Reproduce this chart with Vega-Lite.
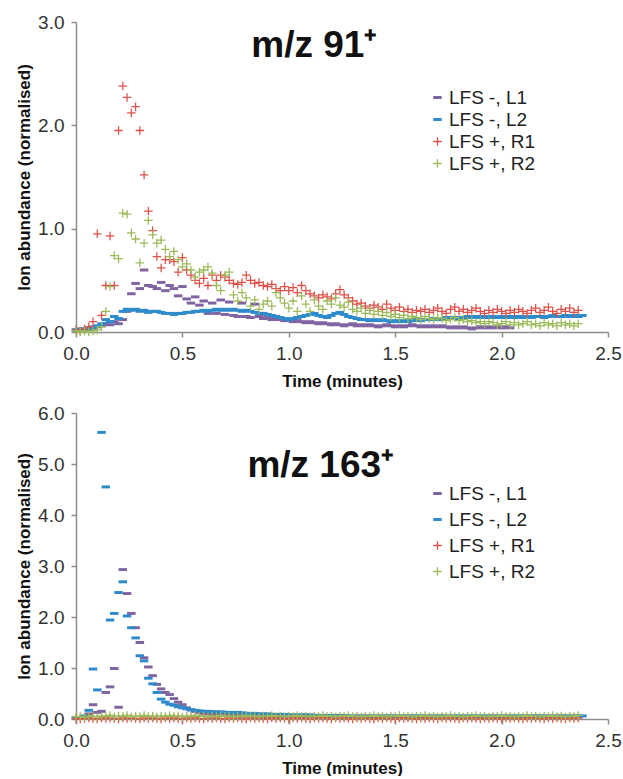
{
  "$schema": "https://vega.github.io/schema/vega-lite/v6.json",
  "background": "white",
  "padding": {"left": 15, "top": 13, "right": 0, "bottom": 0},
  "spacing": 15,
  "config": {
    "view": {"stroke": null},
    "font": "Liberation Sans",
    "axis": {
      "grid": false,
      "labelFlush": false,
      "labelOverlap": false,
      "domainColor": "#8c8c8c",
      "domainWidth": 1.5,
      "tickColor": "#8c8c8c",
      "tickWidth": 1.5,
      "tickSize": 5,
      "labelFont": "Liberation Sans",
      "labelFontSize": 19,
      "labelColor": "#333333",
      "labelPadding": 7,
      "titleFont": "Liberation Sans",
      "titleFontSize": 17,
      "titleFontWeight": "bold",
      "titleColor": "#111111"
    },
    "legend": {
      "labelFont": "Liberation Sans",
      "labelFontSize": 19,
      "labelColor": "#222222",
      "labelOffset": 2,
      "symbolStrokeWidth": 0,
      "symbolSize": 72
    }
  },
  "datasets": {
    "p1": [
      {"t":0.00,"L1":0.02,"L2":0.02,"R1":0.02,"R2":0.01},
      {"t":0.02,"L1":0.03,"L2":0.02,"R1":0.01,"R2":0.00},
      {"t":0.04,"L1":0.02,"L2":0.03,"R1":0.03,"R2":0.01},
      {"t":0.06,"L1":0.04,"L2":0.03,"R1":0.05,"R2":0.00},
      {"t":0.08,"L1":0.03,"L2":0.05,"R1":0.10,"R2":0.01},
      {"t":0.10,"L1":0.05,"L2":0.06,"R1":0.95,"R2":0.02},
      {"t":0.12,"L1":0.06,"L2":0.08,"R1":0.16,"R2":0.05},
      {"t":0.14,"L1":0.08,"L2":0.12,"R1":0.45,"R2":0.20},
      {"t":0.16,"L1":0.07,"L2":0.10,"R1":0.93,"R2":0.44},
      {"t":0.18,"L1":0.10,"L2":0.15,"R1":0.45,"R2":0.74},
      {"t":0.20,"L1":0.08,"L2":0.13,"R1":1.95,"R2":0.71},
      {"t":0.22,"L1":0.12,"L2":0.20,"R1":2.38,"R2":1.15},
      {"t":0.24,"L1":0.20,"L2":0.22,"R1":2.27,"R2":1.14},
      {"t":0.26,"L1":0.37,"L2":0.21,"R1":2.12,"R2":0.96},
      {"t":0.28,"L1":0.47,"L2":0.22,"R1":2.18,"R2":0.90},
      {"t":0.30,"L1":0.42,"L2":0.20,"R1":1.95,"R2":0.67},
      {"t":0.32,"L1":0.60,"L2":0.21,"R1":1.52,"R2":0.86},
      {"t":0.34,"L1":0.45,"L2":0.19,"R1":1.17,"R2":1.08},
      {"t":0.36,"L1":0.44,"L2":0.20,"R1":0.98,"R2":0.94},
      {"t":0.38,"L1":0.42,"L2":0.20,"R1":0.73,"R2":0.86},
      {"t":0.40,"L1":0.48,"L2":0.19,"R1":0.62,"R2":0.89},
      {"t":0.42,"L1":0.40,"L2":0.18,"R1":0.70,"R2":0.80},
      {"t":0.44,"L1":0.45,"L2":0.18,"R1":0.70,"R2":0.73},
      {"t":0.46,"L1":0.42,"L2":0.17,"R1":0.68,"R2":0.78},
      {"t":0.48,"L1":0.35,"L2":0.18,"R1":0.58,"R2":0.70},
      {"t":0.50,"L1":0.44,"L2":0.18,"R1":0.72,"R2":0.63},
      {"t":0.52,"L1":0.32,"L2":0.19,"R1":0.60,"R2":0.66},
      {"t":0.54,"L1":0.28,"L2":0.19,"R1":0.55,"R2":0.60},
      {"t":0.56,"L1":0.34,"L2":0.20,"R1":0.50,"R2":0.53},
      {"t":0.58,"L1":0.26,"L2":0.20,"R1":0.47,"R2":0.58},
      {"t":0.60,"L1":0.30,"L2":0.21,"R1":0.52,"R2":0.60},
      {"t":0.62,"L1":0.18,"L2":0.20,"R1":0.45,"R2":0.63},
      {"t":0.64,"L1":0.28,"L2":0.21,"R1":0.55,"R2":0.57},
      {"t":0.66,"L1":0.18,"L2":0.22,"R1":0.50,"R2":0.45},
      {"t":0.68,"L1":0.31,"L2":0.21,"R1":0.55,"R2":0.40},
      {"t":0.70,"L1":0.17,"L2":0.22,"R1":0.53,"R2":0.55},
      {"t":0.72,"L1":0.29,"L2":0.21,"R1":0.50,"R2":0.58},
      {"t":0.74,"L1":0.16,"L2":0.22,"R1":0.47,"R2":0.36},
      {"t":0.76,"L1":0.15,"L2":0.21,"R1":0.46,"R2":0.30},
      {"t":0.78,"L1":0.28,"L2":0.20,"R1":0.48,"R2":0.38},
      {"t":0.80,"L1":0.15,"L2":0.21,"R1":0.55,"R2":0.33},
      {"t":0.82,"L1":0.14,"L2":0.20,"R1":0.50,"R2":0.25},
      {"t":0.84,"L1":0.27,"L2":0.19,"R1":0.47,"R2":0.31},
      {"t":0.86,"L1":0.15,"L2":0.18,"R1":0.48,"R2":0.22},
      {"t":0.88,"L1":0.13,"L2":0.18,"R1":0.45,"R2":0.27},
      {"t":0.90,"L1":0.14,"L2":0.17,"R1":0.44,"R2":0.30},
      {"t":0.92,"L1":0.12,"L2":0.16,"R1":0.46,"R2":0.25},
      {"t":0.94,"L1":0.13,"L2":0.15,"R1":0.42,"R2":0.38},
      {"t":0.96,"L1":0.12,"L2":0.14,"R1":0.40,"R2":0.33},
      {"t":0.98,"L1":0.11,"L2":0.13,"R1":0.44,"R2":0.28},
      {"t":1.00,"L1":0.12,"L2":0.12,"R1":0.40,"R2":0.23},
      {"t":1.02,"L1":0.10,"L2":0.13,"R1":0.43,"R2":0.30},
      {"t":1.04,"L1":0.11,"L2":0.14,"R1":0.38,"R2":0.20},
      {"t":1.06,"L1":0.10,"L2":0.15,"R1":0.45,"R2":0.35},
      {"t":1.08,"L1":0.09,"L2":0.16,"R1":0.40,"R2":0.27},
      {"t":1.10,"L1":0.10,"L2":0.17,"R1":0.37,"R2":0.20},
      {"t":1.12,"L1":0.09,"L2":0.18,"R1":0.35,"R2":0.31},
      {"t":1.14,"L1":0.08,"L2":0.16,"R1":0.33,"R2":0.25},
      {"t":1.16,"L1":0.09,"L2":0.15,"R1":0.36,"R2":0.22},
      {"t":1.18,"L1":0.08,"L2":0.14,"R1":0.34,"R2":0.30},
      {"t":1.20,"L1":0.07,"L2":0.16,"R1":0.32,"R2":0.27},
      {"t":1.22,"L1":0.08,"L2":0.18,"R1":0.37,"R2":0.33},
      {"t":1.24,"L1":0.07,"L2":0.19,"R1":0.41,"R2":0.26},
      {"t":1.26,"L1":0.06,"L2":0.17,"R1":0.36,"R2":0.24},
      {"t":1.28,"L1":0.07,"L2":0.15,"R1":0.33,"R2":0.29},
      {"t":1.30,"L1":0.08,"L2":0.14,"R1":0.30,"R2":0.22},
      {"t":1.32,"L1":0.06,"L2":0.13,"R1":0.27,"R2":0.20},
      {"t":1.34,"L1":0.07,"L2":0.12,"R1":0.28,"R2":0.23},
      {"t":1.36,"L1":0.06,"L2":0.12,"R1":0.25,"R2":0.18},
      {"t":1.38,"L1":0.07,"L2":0.11,"R1":0.23,"R2":0.21},
      {"t":1.40,"L1":0.06,"L2":0.12,"R1":0.26,"R2":0.17},
      {"t":1.42,"L1":0.05,"L2":0.11,"R1":0.24,"R2":0.20},
      {"t":1.44,"L1":0.06,"L2":0.12,"R1":0.22,"R2":0.16},
      {"t":1.46,"L1":0.07,"L2":0.11,"R1":0.27,"R2":0.19},
      {"t":1.48,"L1":0.06,"L2":0.10,"R1":0.23,"R2":0.15},
      {"t":1.50,"L1":0.05,"L2":0.11,"R1":0.21,"R2":0.17},
      {"t":1.52,"L1":0.06,"L2":0.10,"R1":0.24,"R2":0.14},
      {"t":1.54,"L1":0.05,"L2":0.11,"R1":0.20,"R2":0.16},
      {"t":1.56,"L1":0.06,"L2":0.10,"R1":0.22,"R2":0.13},
      {"t":1.58,"L1":0.07,"L2":0.11,"R1":0.19,"R2":0.15},
      {"t":1.60,"L1":0.06,"L2":0.12,"R1":0.21,"R2":0.14},
      {"t":1.62,"L1":0.05,"L2":0.11,"R1":0.20,"R2":0.12},
      {"t":1.64,"L1":0.06,"L2":0.12,"R1":0.22,"R2":0.15},
      {"t":1.66,"L1":0.05,"L2":0.12,"R1":0.19,"R2":0.13},
      {"t":1.68,"L1":0.06,"L2":0.13,"R1":0.21,"R2":0.12},
      {"t":1.70,"L1":0.05,"L2":0.12,"R1":0.23,"R2":0.14},
      {"t":1.72,"L1":0.06,"L2":0.13,"R1":0.20,"R2":0.13},
      {"t":1.74,"L1":0.05,"L2":0.14,"R1":0.18,"R2":0.11},
      {"t":1.76,"L1":0.04,"L2":0.13,"R1":0.22,"R2":0.12},
      {"t":1.78,"L1":0.05,"L2":0.14,"R1":0.24,"R2":0.14},
      {"t":1.80,"L1":0.04,"L2":0.13,"R1":0.20,"R2":0.11},
      {"t":1.82,"L1":0.05,"L2":0.14,"R1":0.22,"R2":0.12},
      {"t":1.84,"L1":0.04,"L2":0.15,"R1":0.19,"R2":0.10},
      {"t":1.86,"L1":0.03,"L2":0.14,"R1":0.21,"R2":0.11},
      {"t":1.88,"L1":0.04,"L2":0.15,"R1":0.23,"R2":0.09},
      {"t":1.90,"L1":0.05,"L2":0.14,"R1":0.20,"R2":0.10},
      {"t":1.92,"L1":0.04,"L2":0.15,"R1":0.18,"R2":0.08},
      {"t":1.94,"L1":0.05,"L2":0.14,"R1":0.21,"R2":0.10},
      {"t":1.96,"L1":0.04,"L2":0.15,"R1":0.19,"R2":0.09},
      {"t":1.98,"L1":0.05,"L2":0.14,"R1":0.22,"R2":0.07},
      {"t":2.00,"L1":0.04,"L2":0.15,"R1":0.20,"R2":0.08},
      {"t":2.02,"L1":0.05,"L2":0.14,"R1":0.18,"R2":0.10},
      {"t":2.04,"L1":0.04,"L2":0.15,"R1":0.21,"R2":0.07},
      {"t":2.06,"L1":null,"L2":0.14,"R1":0.19,"R2":0.09},
      {"t":2.08,"L1":null,"L2":0.15,"R1":0.22,"R2":0.07},
      {"t":2.10,"L1":null,"L2":0.14,"R1":0.20,"R2":0.08},
      {"t":2.12,"L1":null,"L2":0.15,"R1":0.18,"R2":0.10},
      {"t":2.14,"L1":null,"L2":0.14,"R1":0.21,"R2":0.07},
      {"t":2.16,"L1":null,"L2":0.15,"R1":0.23,"R2":0.08},
      {"t":2.18,"L1":null,"L2":0.15,"R1":0.19,"R2":0.06},
      {"t":2.20,"L1":null,"L2":0.14,"R1":0.21,"R2":0.09},
      {"t":2.22,"L1":null,"L2":0.15,"R1":0.24,"R2":0.07},
      {"t":2.24,"L1":null,"L2":0.16,"R1":0.20,"R2":0.08},
      {"t":2.26,"L1":null,"L2":0.15,"R1":0.18,"R2":0.06},
      {"t":2.28,"L1":null,"L2":0.15,"R1":0.22,"R2":0.09},
      {"t":2.30,"L1":null,"L2":0.16,"R1":0.20,"R2":0.07},
      {"t":2.32,"L1":null,"L2":0.15,"R1":0.23,"R2":0.08},
      {"t":2.34,"L1":null,"L2":0.16,"R1":0.19,"R2":0.06},
      {"t":2.36,"L1":null,"L2":0.15,"R1":0.21,"R2":0.08},
      {"t":2.38,"L1":null,"L2":0.16,"R1":null,"R2":null}
    ],
    "p2": [
      {"t":0.00,"L1":0.03,"L2":0.02,"R1":0.01,"R2":0.04},
      {"t":0.02,"L1":0.02,"L2":0.03,"R1":0.00,"R2":0.05},
      {"t":0.04,"L1":0.05,"L2":0.06,"R1":0.01,"R2":0.03},
      {"t":0.06,"L1":0.10,"L2":0.17,"R1":0.02,"R2":0.06},
      {"t":0.08,"L1":0.28,"L2":0.98,"R1":0.01,"R2":0.05},
      {"t":0.10,"L1":0.13,"L2":0.57,"R1":0.00,"R2":0.04},
      {"t":0.12,"L1":0.15,"L2":5.62,"R1":0.02,"R2":0.06},
      {"t":0.14,"L1":0.52,"L2":4.55,"R1":0.01,"R2":0.05},
      {"t":0.16,"L1":0.63,"L2":1.94,"R1":0.02,"R2":0.07},
      {"t":0.18,"L1":0.99,"L2":2.07,"R1":0.01,"R2":0.04},
      {"t":0.20,"L1":0.23,"L2":2.48,"R1":0.00,"R2":0.06},
      {"t":0.22,"L1":2.93,"L2":2.69,"R1":0.02,"R2":0.05},
      {"t":0.24,"L1":2.46,"L2":2.02,"R1":0.01,"R2":0.07},
      {"t":0.26,"L1":2.07,"L2":1.79,"R1":0.02,"R2":0.04},
      {"t":0.28,"L1":1.79,"L2":1.59,"R1":0.01,"R2":0.06},
      {"t":0.30,"L1":1.50,"L2":1.24,"R1":0.00,"R2":0.05},
      {"t":0.32,"L1":1.20,"L2":1.14,"R1":0.02,"R2":0.07},
      {"t":0.34,"L1":1.02,"L2":0.80,"R1":0.01,"R2":0.05},
      {"t":0.36,"L1":0.85,"L2":0.69,"R1":0.02,"R2":0.06},
      {"t":0.38,"L1":0.68,"L2":0.52,"R1":0.01,"R2":0.04},
      {"t":0.40,"L1":0.59,"L2":0.39,"R1":0.00,"R2":0.06},
      {"t":0.42,"L1":0.52,"L2":0.33,"R1":0.02,"R2":0.05},
      {"t":0.44,"L1":0.48,"L2":0.29,"R1":0.01,"R2":0.07},
      {"t":0.46,"L1":0.40,"L2":0.27,"R1":0.02,"R2":0.05},
      {"t":0.48,"L1":0.33,"L2":0.24,"R1":0.01,"R2":0.06},
      {"t":0.50,"L1":0.28,"L2":0.22,"R1":0.00,"R2":0.04},
      {"t":0.52,"L1":0.22,"L2":0.20,"R1":0.02,"R2":0.06},
      {"t":0.54,"L1":0.18,"L2":0.18,"R1":0.01,"R2":0.05},
      {"t":0.56,"L1":0.15,"L2":0.17,"R1":0.02,"R2":0.07},
      {"t":0.58,"L1":0.13,"L2":0.16,"R1":0.01,"R2":0.05},
      {"t":0.60,"L1":0.11,"L2":0.15,"R1":0.00,"R2":0.06},
      {"t":0.62,"L1":0.10,"L2":0.15,"R1":0.02,"R2":0.04},
      {"t":0.64,"L1":0.09,"L2":0.14,"R1":0.01,"R2":0.06},
      {"t":0.66,"L1":0.09,"L2":0.14,"R1":0.02,"R2":0.05},
      {"t":0.68,"L1":0.08,"L2":0.14,"R1":0.01,"R2":0.07},
      {"t":0.70,"L1":0.08,"L2":0.13,"R1":0.00,"R2":0.05},
      {"t":0.72,"L1":0.07,"L2":0.13,"R1":0.02,"R2":0.06},
      {"t":0.74,"L1":0.07,"L2":0.12,"R1":0.01,"R2":0.04},
      {"t":0.76,"L1":0.07,"L2":0.13,"R1":0.02,"R2":0.06},
      {"t":0.78,"L1":0.06,"L2":0.12,"R1":0.01,"R2":0.05},
      {"t":0.80,"L1":0.06,"L2":0.11,"R1":0.00,"R2":0.07},
      {"t":0.82,"L1":0.06,"L2":0.11,"R1":0.02,"R2":0.05},
      {"t":0.84,"L1":0.06,"L2":0.11,"R1":0.01,"R2":0.06},
      {"t":0.86,"L1":0.05,"L2":0.10,"R1":0.02,"R2":0.04},
      {"t":0.88,"L1":0.06,"L2":0.10,"R1":0.01,"R2":0.06},
      {"t":0.90,"L1":0.05,"L2":0.10,"R1":0.00,"R2":0.05},
      {"t":0.92,"L1":0.05,"L2":0.09,"R1":0.02,"R2":0.07},
      {"t":0.94,"L1":0.05,"L2":0.09,"R1":0.01,"R2":0.05},
      {"t":0.96,"L1":0.05,"L2":0.09,"R1":0.02,"R2":0.06},
      {"t":0.98,"L1":0.05,"L2":0.09,"R1":0.01,"R2":0.04},
      {"t":1.00,"L1":0.05,"L2":0.08,"R1":0.00,"R2":0.06},
      {"t":1.02,"L1":0.04,"L2":0.08,"R1":0.02,"R2":0.05},
      {"t":1.04,"L1":0.05,"L2":0.08,"R1":0.01,"R2":0.07},
      {"t":1.06,"L1":0.04,"L2":0.08,"R1":0.02,"R2":0.05},
      {"t":1.08,"L1":0.05,"L2":0.08,"R1":0.01,"R2":0.06},
      {"t":1.10,"L1":0.04,"L2":0.08,"R1":0.00,"R2":0.04},
      {"t":1.12,"L1":0.04,"L2":0.07,"R1":0.02,"R2":0.06},
      {"t":1.14,"L1":0.05,"L2":0.07,"R1":0.01,"R2":0.05},
      {"t":1.16,"L1":0.04,"L2":0.07,"R1":0.02,"R2":0.07},
      {"t":1.18,"L1":0.04,"L2":0.07,"R1":0.01,"R2":0.05},
      {"t":1.20,"L1":0.04,"L2":0.07,"R1":0.00,"R2":0.06},
      {"t":1.22,"L1":0.04,"L2":0.07,"R1":0.02,"R2":0.04},
      {"t":1.24,"L1":0.04,"L2":0.07,"R1":0.01,"R2":0.06},
      {"t":1.26,"L1":0.04,"L2":0.07,"R1":0.02,"R2":0.05},
      {"t":1.28,"L1":0.04,"L2":0.06,"R1":0.01,"R2":0.07},
      {"t":1.30,"L1":0.04,"L2":0.06,"R1":0.00,"R2":0.05},
      {"t":1.32,"L1":0.04,"L2":0.06,"R1":0.02,"R2":0.06},
      {"t":1.34,"L1":0.03,"L2":0.06,"R1":0.01,"R2":0.04},
      {"t":1.36,"L1":0.04,"L2":0.06,"R1":0.02,"R2":0.06},
      {"t":1.38,"L1":0.03,"L2":0.06,"R1":0.01,"R2":0.05},
      {"t":1.40,"L1":0.04,"L2":0.06,"R1":0.00,"R2":0.07},
      {"t":1.42,"L1":0.03,"L2":0.06,"R1":0.02,"R2":0.05},
      {"t":1.44,"L1":0.04,"L2":0.06,"R1":0.01,"R2":0.06},
      {"t":1.46,"L1":0.03,"L2":0.06,"R1":0.02,"R2":0.04},
      {"t":1.48,"L1":0.04,"L2":0.06,"R1":0.01,"R2":0.06},
      {"t":1.50,"L1":0.03,"L2":0.06,"R1":0.00,"R2":0.05},
      {"t":1.52,"L1":0.04,"L2":0.06,"R1":0.02,"R2":0.07},
      {"t":1.54,"L1":0.03,"L2":0.06,"R1":0.01,"R2":0.05},
      {"t":1.56,"L1":0.04,"L2":0.06,"R1":0.02,"R2":0.06},
      {"t":1.58,"L1":0.03,"L2":0.06,"R1":0.01,"R2":0.04},
      {"t":1.60,"L1":0.04,"L2":0.06,"R1":0.00,"R2":0.06},
      {"t":1.62,"L1":0.03,"L2":0.06,"R1":0.02,"R2":0.05},
      {"t":1.64,"L1":0.04,"L2":0.06,"R1":0.01,"R2":0.07},
      {"t":1.66,"L1":0.03,"L2":0.06,"R1":0.02,"R2":0.05},
      {"t":1.68,"L1":0.04,"L2":0.06,"R1":0.01,"R2":0.06},
      {"t":1.70,"L1":0.03,"L2":0.06,"R1":0.00,"R2":0.04},
      {"t":1.72,"L1":0.04,"L2":0.06,"R1":0.02,"R2":0.06},
      {"t":1.74,"L1":0.03,"L2":0.06,"R1":0.01,"R2":0.05},
      {"t":1.76,"L1":0.04,"L2":0.06,"R1":0.02,"R2":0.07},
      {"t":1.78,"L1":0.03,"L2":0.06,"R1":0.01,"R2":0.05},
      {"t":1.80,"L1":0.04,"L2":0.06,"R1":0.00,"R2":0.06},
      {"t":1.82,"L1":0.03,"L2":0.06,"R1":0.02,"R2":0.04},
      {"t":1.84,"L1":0.04,"L2":0.06,"R1":0.01,"R2":0.06},
      {"t":1.86,"L1":0.03,"L2":0.06,"R1":0.02,"R2":0.05},
      {"t":1.88,"L1":0.04,"L2":0.06,"R1":0.01,"R2":0.07},
      {"t":1.90,"L1":0.03,"L2":0.06,"R1":0.00,"R2":0.05},
      {"t":1.92,"L1":0.04,"L2":0.06,"R1":0.02,"R2":0.06},
      {"t":1.94,"L1":0.03,"L2":0.06,"R1":0.01,"R2":0.04},
      {"t":1.96,"L1":0.04,"L2":0.06,"R1":0.02,"R2":0.06},
      {"t":1.98,"L1":0.03,"L2":0.06,"R1":0.01,"R2":0.05},
      {"t":2.00,"L1":0.04,"L2":0.06,"R1":0.00,"R2":0.07},
      {"t":2.02,"L1":0.03,"L2":0.06,"R1":0.02,"R2":0.05},
      {"t":2.04,"L1":0.04,"L2":0.06,"R1":0.01,"R2":0.06},
      {"t":2.06,"L1":0.03,"L2":0.06,"R1":0.02,"R2":0.04},
      {"t":2.08,"L1":0.04,"L2":0.06,"R1":0.01,"R2":0.06},
      {"t":2.10,"L1":0.03,"L2":0.06,"R1":0.00,"R2":0.05},
      {"t":2.12,"L1":0.04,"L2":0.06,"R1":0.02,"R2":0.07},
      {"t":2.14,"L1":0.03,"L2":0.06,"R1":0.01,"R2":0.05},
      {"t":2.16,"L1":0.04,"L2":0.06,"R1":0.02,"R2":0.06},
      {"t":2.18,"L1":0.03,"L2":0.06,"R1":0.01,"R2":0.04},
      {"t":2.20,"L1":0.04,"L2":0.06,"R1":0.00,"R2":0.06},
      {"t":2.22,"L1":0.03,"L2":0.06,"R1":0.02,"R2":0.05},
      {"t":2.24,"L1":0.04,"L2":0.06,"R1":0.01,"R2":0.07},
      {"t":2.26,"L1":0.03,"L2":0.06,"R1":0.02,"R2":0.05},
      {"t":2.28,"L1":0.04,"L2":0.06,"R1":0.01,"R2":0.06},
      {"t":2.30,"L1":0.03,"L2":0.06,"R1":0.00,"R2":0.04},
      {"t":2.32,"L1":0.04,"L2":0.06,"R1":0.02,"R2":0.06},
      {"t":2.34,"L1":0.03,"L2":0.06,"R1":0.01,"R2":0.05},
      {"t":2.36,"L1":0.04,"L2":0.06,"R1":0.02,"R2":0.07},
      {"t":2.38,"L1":null,"L2":0.06,"R1":null,"R2":null}
    ],
    "titles": [
      {"panel":"p1","label":"m/z 91⁺"},
      {"panel":"p2","label":"m/z 163⁺"}
    ]
  },
  "resolve": {
    "scale": {"color": "independent", "shape": "independent"}
  },
  "vconcat": [
    {
      "width": 532,
      "height": 310,
      "layer": [
        {
          "data": {"name": "p1"},
          "transform": [
            {"fold": ["L1", "L2", "R1", "R2"], "as": ["key", "value"]},
            {"filter": {"field": "value", "valid": true}}
          ],
          "mark": {"type": "point", "filled": true, "size": 72, "opacity": 1, "strokeWidth": 0},
          "encoding": {
            "x": {"field": "t", "type": "quantitative", "scale": {"domain": [0, 2.5], "nice": false},
                  "axis": {"values": [0, 0.5, 1, 1.5, 2, 2.5], "format": ".1f", "title": "Time (minutes)", "titlePadding": 10}},
            "y": {"field": "value", "type": "quantitative", "scale": {"domain": [0, 3], "nice": false},
                  "axis": {"values": [0, 1, 2, 3], "format": ".1f", "title": "Ion abundance (normalised)", "titlePadding": 4}},
            "order": {"field": "key", "type": "ordinal", "sort": "ascending"},
            "color": {"field": "key", "type": "nominal",
                      "scale": {"domain": ["L1", "L2", "R1", "R2"], "range": ["#8064A2", "#2E8BCB", "#E0504A", "#9BBB59"]},
                      "legend": {"title": null, "orient": "none", "legendX": 352, "legendY": 66, "rowPadding": 2,
                                 "labelExpr": "(datum.label[0] == 'L' ? 'LFS -, ' : 'LFS +, ') + datum.label",
                                 "encode": {"symbols": {"update": {
                                   "shape": {"signal": "datum.value[0] == 'L' ? 'M-1,-0.35H1V0.35H-1Z' : 'M-1,-0.17H1V0.17H-1ZM-0.17,-1H0.17V1H-0.17Z'"},
                                   "fill": {"signal": "datum.value == 'L1' ? '#8064A2' : datum.value == 'L2' ? '#2E8BCB' : datum.value == 'R1' ? '#E0504A' : '#9BBB59'"},
                                   "stroke": {"value": "transparent"},
                                   "opacity": {"value": 1}}}}}},
            "shape": {"field": "key", "type": "nominal",
                      "scale": {"domain": ["L1", "L2", "R1", "R2"],
                                "range": ["M-1,-0.35H1V0.35H-1Z", "M-1,-0.35H1V0.35H-1Z", "M-1,-0.15H1V0.15H-1ZM-0.15,-1H0.15V1H-0.15Z", "M-1,-0.15H1V0.15H-1ZM-0.15,-1H0.15V1H-0.15Z"]},
                      "legend": null}
          }
        },
        {
          "data": {"name": "titles"},
          "transform": [{"filter": "datum.panel == 'p1'"}],
          "mark": {"type": "text", "font": "Liberation Sans", "fontSize": 37, "fontWeight": "bold", "color": "#111111"},
          "encoding": {
            "x": {"datum": 1.12},
            "y": {"datum": 2.77},
            "text": {"field": "label"}
          }
        }
      ]
    },
    {
      "width": 532,
      "height": 306,
      "layer": [
        {
          "data": {"name": "p2"},
          "transform": [
            {"fold": ["L1", "L2", "R1", "R2"], "as": ["key", "value"]},
            {"filter": {"field": "value", "valid": true}}
          ],
          "mark": {"type": "point", "filled": true, "size": 72, "opacity": 1, "strokeWidth": 0},
          "encoding": {
            "x": {"field": "t", "type": "quantitative", "scale": {"domain": [0, 2.5], "nice": false},
                  "axis": {"values": [0, 0.5, 1, 1.5, 2, 2.5], "format": ".1f", "title": "Time (minutes)", "titlePadding": 10}},
            "y": {"field": "value", "type": "quantitative", "scale": {"domain": [0, 6], "nice": false},
                  "axis": {"values": [0, 1, 2, 3, 4, 5, 6], "format": ".1f", "title": "Ion abundance (normalised)", "titlePadding": 4}},
            "order": {"field": "key", "type": "ordinal", "sort": "ascending"},
            "color": {"field": "key", "type": "nominal",
                      "scale": {"domain": ["L1", "L2", "R1", "R2"], "range": ["#8064A2", "#2E8BCB", "#E0504A", "#9BBB59"]},
                      "legend": {"title": null, "orient": "none", "legendX": 352, "legendY": 71, "rowPadding": 6,
                                 "labelExpr": "(datum.label[0] == 'L' ? 'LFS -, ' : 'LFS +, ') + datum.label",
                                 "encode": {"symbols": {"update": {
                                   "shape": {"signal": "datum.value[0] == 'L' ? 'M-1,-0.35H1V0.35H-1Z' : 'M-1,-0.17H1V0.17H-1ZM-0.17,-1H0.17V1H-0.17Z'"},
                                   "fill": {"signal": "datum.value == 'L1' ? '#8064A2' : datum.value == 'L2' ? '#2E8BCB' : datum.value == 'R1' ? '#E0504A' : '#9BBB59'"},
                                   "stroke": {"value": "transparent"},
                                   "opacity": {"value": 1}}}}}},
            "shape": {"field": "key", "type": "nominal",
                      "scale": {"domain": ["L1", "L2", "R1", "R2"],
                                "range": ["M-1,-0.35H1V0.35H-1Z", "M-1,-0.35H1V0.35H-1Z", "M-1,-0.15H1V0.15H-1ZM-0.15,-1H0.15V1H-0.15Z", "M-1,-0.15H1V0.15H-1ZM-0.15,-1H0.15V1H-0.15Z"]},
                      "legend": null}
          }
        },
        {
          "data": {"name": "titles"},
          "transform": [{"filter": "datum.panel == 'p2'"}],
          "mark": {"type": "text", "font": "Liberation Sans", "fontSize": 37, "fontWeight": "bold", "color": "#111111"},
          "encoding": {
            "x": {"datum": 1.15},
            "y": {"datum": 4.96},
            "text": {"field": "label"}
          }
        }
      ]
    }
  ]
}
